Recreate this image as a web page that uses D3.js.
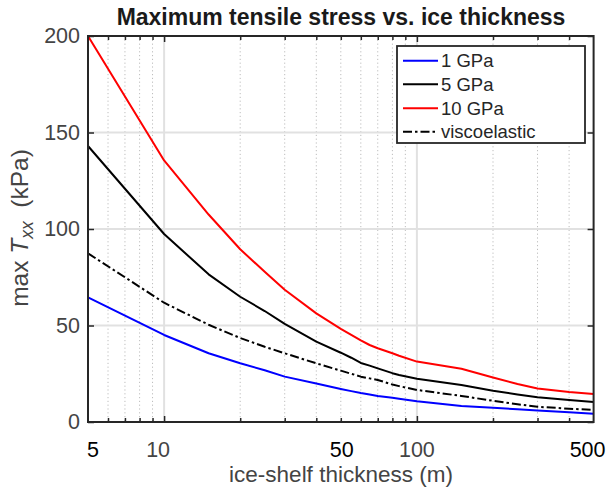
<!DOCTYPE html>
<html>
<head>
<meta charset="utf-8">
<script src="https://cdn.jsdelivr.net/npm/d3@7"></script>
<style>
  html, body { margin: 0; padding: 0; background: #fff; }
  svg { display: block; font-family: "Liberation Sans", Arial, Helvetica, sans-serif; }
</style>
</head>
<body>
<svg id="chart" width="606" height="491"></svg>
<script>
// Ice-shelf thickness (m) at which the maximum tensile stress was evaluated
const thickness = [5, 10, 15, 20, 25, 30, 40, 50, 55, 60, 65, 70, 80, 85, 100, 150, 200, 250, 300, 400, 500];

// max T_xx (kPa) for each elastic modulus and the viscoelastic case
const stress1GPa  = [64.6, 45.1, 35.6, 30.4, 26.8, 23.5, 19.9, 17.1, 16.0, 15.0, 14.2, 13.5, 12.6, 12.1, 10.8, 8.3, 7.4, 6.6, 5.9, 5.0, 4.3];
const stress5GPa  = [143, 97.4, 76.5, 64.9, 57.5, 50.8, 41.6, 35.9, 33.3, 30.6, 29.2, 27.8, 25.3, 24.4, 22.4, 19.2, 16.2, 14.3, 12.8, 11.4, 10.4];
const stress10GPa = [200, 135.5, 107.5, 89.5, 77.8, 68.5, 56.3, 48.3, 45.2, 42.3, 39.9, 38.2, 35.6, 34.3, 31.3, 27.6, 23.1, 19.7, 17.4, 15.6, 14.5];
const stressVisco = [87.4, 61.8, 50.4, 43.5, 39.0, 35.6, 30.4, 26.6, 25.0, 23.5, 22.6, 21.8, 19.4, 18.6, 16.6, 13.5, 11.0, 9.2, 7.9, 6.9, 6.2];

const seriesNames = ["1 GPa", "5 GPa", "10 GPa", "viscoelastic"];
const seriesValues = [stress1GPa, stress5GPa, stress10GPa, stressVisco];
const seriesColors = ["#0000ff", "#000000", "#ff0000", "#000000"];
const seriesDash = [null, null, null, "9,3,2.5,3"];

const xTickValues = [5, 10, 50, 100, 500];
const xTickLabels = ["5", "10", "50", "100", "500"];
const yTickValues = [0, 50, 100, 150, 200];
const minorXValues = [6, 7, 8, 9, 20, 30, 40, 50, 60, 70, 80, 90, 200, 300, 400];

const svg = d3.select("#chart");
const plotLeft = 88, plotRight = 593.6, plotTop = 36, plotBottom = 422;

const x = d3.scaleLog().domain([5, 500]).range([plotLeft, plotRight]);
const y = d3.scaleLinear().domain([0, 200]).range([plotBottom, plotTop]);

const axisColor = "#262626";
const textColor = "#444444";

// grid lines: dotted minor verticals, solid light major lines
const grid = svg.append("g");
grid.selectAll("line.minor").data(minorXValues).join("line")
  .attr("class", "minor")
  .attr("x1", d => x(d)).attr("x2", d => x(d))
  .attr("y1", plotTop).attr("y2", plotBottom)
  .attr("stroke", "#bdbdbd").attr("stroke-width", 1)
  .attr("stroke-dasharray", "1.2,2.6");
grid.selectAll("line.majx").data([10, 100]).join("line")
  .attr("class", "majx")
  .attr("x1", d => x(d)).attr("x2", d => x(d))
  .attr("y1", plotTop).attr("y2", plotBottom)
  .attr("stroke", "#e1e1e1").attr("stroke-width", 2);
grid.selectAll("line.majy").data([50, 100, 150]).join("line")
  .attr("class", "majy")
  .attr("x1", plotLeft).attr("x2", plotRight)
  .attr("y1", d => y(d)).attr("y2", d => y(d))
  .attr("stroke", "#e1e1e1").attr("stroke-width", 2);

// data lines
const line = d3.line().x(d => x(d[0])).y(d => y(d[1]));
seriesValues.forEach((vals, i) => {
  svg.append("path")
    .datum(thickness.map((t, j) => [t, vals[j]]))
    .attr("d", line)
    .attr("fill", "none")
    .attr("stroke", seriesColors[i])
    .attr("stroke-width", 2)
    .attr("stroke-linejoin", "round")
    .attr("stroke-dasharray", seriesDash[i]);
});

// axes with inward ticks on all four sides
function inwardMinor(g, dir) {
  g.call(d3.axisBottom(x).tickValues(minorXValues).tickSize(0).tickFormat(""));
  g.select(".domain").remove();
  g.selectAll(".tick line").attr("y2", dir * 4).attr("stroke", axisColor).attr("stroke-width", 1.5);
}
svg.append("g").attr("transform", `translate(0,${plotBottom})`).call(inwardMinor, -1);
svg.append("g").attr("transform", `translate(0,${plotTop})`).call(inwardMinor, 1);

const majorXBottom = svg.append("g").attr("transform", `translate(0,${plotBottom})`)
  .call(d3.axisBottom(x).tickValues([10, 100]).tickSizeInner(-6).tickSizeOuter(0).tickFormat(""));
majorXBottom.select(".domain").remove();
majorXBottom.selectAll(".tick line").attr("stroke", axisColor).attr("stroke-width", 1.5);
const majorXTop = svg.append("g").attr("transform", `translate(0,${plotTop})`)
  .call(d3.axisTop(x).tickValues([10, 100]).tickSizeInner(-6).tickSizeOuter(0).tickFormat(""));
majorXTop.select(".domain").remove();
majorXTop.selectAll(".tick line").attr("stroke", axisColor).attr("stroke-width", 1.5);

const yLeft = svg.append("g").attr("transform", `translate(${plotLeft},0)`)
  .call(d3.axisLeft(y).tickValues(yTickValues).tickSizeInner(-6).tickSizeOuter(0).tickPadding(8));
yLeft.select(".domain").remove();
yLeft.selectAll(".tick line").attr("stroke", axisColor).attr("stroke-width", 1.5);
yLeft.selectAll(".tick text")
  .attr("font-size", 21.5).attr("fill", textColor)
  .attr("font-family", "Liberation Sans, Arial, sans-serif");

const yRight = svg.append("g").attr("transform", `translate(${plotRight},0)`)
  .call(d3.axisRight(y).tickValues(yTickValues).tickSizeInner(-6).tickSizeOuter(0).tickFormat(""));
yRight.select(".domain").remove();
yRight.selectAll(".tick line").attr("stroke", axisColor).attr("stroke-width", 1.5);

// x tick labels
const xLabelShift = [5, -6, 1, 0, -6];
svg.append("g").selectAll("text").data(xTickValues).join("text")
  .attr("x", (d, i) => x(d) + xLabelShift[i])
  .attr("y", 456.5)
  .attr("text-anchor", "middle")
  .attr("font-size", 21.5)
  .attr("fill", (d, i) => (i === 1 || i === 3) ? textColor : "#000")
  .text((d, i) => xTickLabels[i]);

// plot frame
svg.append("rect")
  .attr("x", plotLeft).attr("y", plotTop)
  .attr("width", plotRight - plotLeft).attr("height", plotBottom - plotTop)
  .attr("fill", "none").attr("stroke", axisColor).attr("stroke-width", 2);

// title and axis labels
svg.append("text")
  .attr("x", 341).attr("y", 25)
  .attr("text-anchor", "middle")
  .attr("font-size", 23).attr("font-weight", "bold").attr("fill", "#1a1a1a")
  .text("Maximum tensile stress vs. ice thickness");

svg.append("text")
  .attr("x", 341).attr("y", 482)
  .attr("text-anchor", "middle")
  .attr("font-size", 22.5).attr("fill", textColor)
  .text("ice-shelf thickness (m)");

const yl = svg.append("text")
  .attr("transform", `translate(28,228) rotate(-90)`)
  .attr("text-anchor", "middle")
  .attr("font-size", 24.5).attr("fill", textColor);
yl.append("tspan").text("max ");
yl.append("tspan").attr("font-style", "italic").text("T");
yl.append("tspan").attr("font-style", "italic").attr("font-size", 17.5).attr("dy", 5).text("xx");
yl.append("tspan").attr("dy", -5).text("\u00a0\u00a0(kPa)");

// legend
const lg = svg.append("g");
lg.append("rect")
  .attr("x", 397).attr("y", 46).attr("width", 188).attr("height", 97)
  .attr("fill", "#fff").attr("stroke", axisColor).attr("stroke-width", 1.8);
const rowY = [60.7, 84.3, 108.3, 131.7];
seriesNames.forEach((name, i) => {
  lg.append("line")
    .attr("x1", 403).attr("x2", 438)
    .attr("y1", rowY[i]).attr("y2", rowY[i])
    .attr("stroke", seriesColors[i]).attr("stroke-width", 2)
    .attr("stroke-dasharray", seriesDash[i]);
  lg.append("text")
    .attr("x", 441).attr("y", rowY[i] + 6.5)
    .attr("font-size", 18.5).attr("fill", "#262626")
    .text(name);
});
</script>
</body>
</html>
